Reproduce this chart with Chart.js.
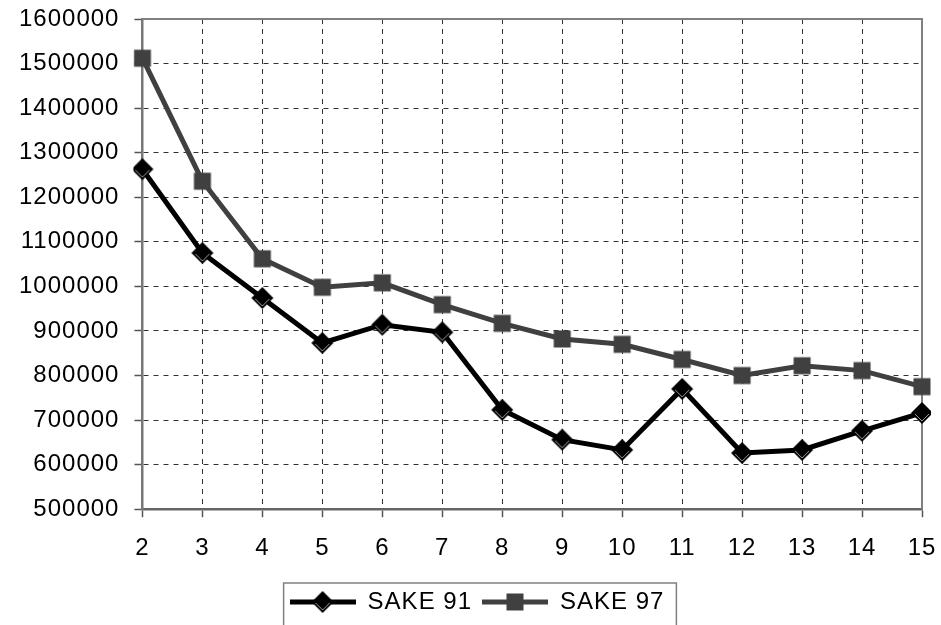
<!DOCTYPE html>
<html lang="en">
<head>
    <meta charset="UTF-8">
    <title>SAKE 91 / SAKE 97</title>
    <script src="https://cdn.jsdelivr.net/npm/chart.js"></script>
    <style>
        html, body { margin: 0; padding: 0; background: #fff; }
        #wrap { width: 941px; height: 625px; }
    </style>
</head>
<body>
    <div id="wrap"><canvas id="myChart" width="941" height="625"></canvas></div>

    <script>
        var categories = ['2', '3', '4', '5', '6', '7', '8', '9', '10', '11', '12', '13', '14', '15'];
        var sake91 = [1263000, 1075000, 974000, 873000, 914000, 897000, 723000, 656000, 633000, 770000, 626000, 633000, 676000, 716000];
        var sake97 = [1512000, 1236000, 1062000, 998000, 1008000, 959000, 917000, 882000, 870000, 836000, 800000, 822000, 811000, 775000];
        var yMin = 500000;
        var yMax = 1600000;
        var yStep = 100000;

        var black = '#000000';
        var gray = '#404040';
        var swatchWidth = 66;

        // black diamond with the thin light edge on its lower half
        function drawDiamond(ctx, cx, cy, r) {
            ctx.beginPath();
            ctx.moveTo(cx, cy - r);
            ctx.lineTo(cx + r, cy);
            ctx.lineTo(cx, cy + r);
            ctx.lineTo(cx - r, cy);
            ctx.closePath();
            ctx.fillStyle = black;
            ctx.fill();
            ctx.beginPath();
            ctx.moveTo(cx - r + 4, cy + 1);
            ctx.lineTo(cx, cy + r - 3);
            ctx.lineTo(cx + r - 4, cy + 1);
            ctx.strokeStyle = '#9a9a9a';
            ctx.lineWidth = 1;
            ctx.stroke();
        }

        function drawSquare(ctx, cx, cy, half) {
            ctx.fillStyle = gray;
            ctx.fillRect(cx - half, cy - half, half * 2, half * 2);
        }

        function markerCanvas(kind) {
            var c = document.createElement('canvas');
            c.width = 24;
            c.height = 24;
            var ctx = c.getContext('2d');
            if (kind === 'diamond') drawDiamond(ctx, 12, 12, 11);
            else drawSquare(ctx, 12, 12, 8.5);
            return c;
        }

        // legend swatch: a short line with the marker in the middle
        function legendSwatch(kind, color) {
            var c = document.createElement('canvas');
            c.width = swatchWidth;
            c.height = 24;
            var ctx = c.getContext('2d');
            ctx.strokeStyle = color;
            ctx.lineWidth = 5;
            ctx.beginPath();
            ctx.moveTo(0, 12);
            ctx.lineTo(swatchWidth, 12);
            ctx.stroke();
            if (kind === 'diamond') drawDiamond(ctx, swatchWidth / 2, 12, 11);
            else drawSquare(ctx, swatchWidth / 2, 12, 8.5);
            return c;
        }

        var textSpacing = {
            id: 'textSpacing',
            beforeLayout: function (chart) { chart.ctx.letterSpacing = '1px'; },
            beforeDraw: function (chart) { chart.ctx.letterSpacing = '1px'; }
        };

        var plotFrame = {
            id: 'plotFrame',
            // legend sits a little right of the canvas centre
            afterLayout: function (chart) {
                chart.legend.left += 14;
                chart.legend.right += 14;
            },
            beforeDatasetsDraw: function (chart) {
                var a = chart.chartArea;
                var ctx = chart.ctx;
                ctx.save();
                ctx.strokeStyle = '#808080';
                ctx.lineWidth = 2;
                ctx.beginPath();
                ctx.moveTo(a.left, a.top);
                ctx.lineTo(a.right, a.top);
                ctx.lineTo(a.right, a.bottom);
                ctx.stroke();
                ctx.restore();
            },
            afterDraw: function (chart) {
                var boxes = chart.legend.legendHitBoxes;
                if (!boxes || !boxes.length) return;
                var first = boxes[0];
                var last = boxes[boxes.length - 1];
                var ctx = chart.ctx;
                ctx.save();
                ctx.strokeStyle = '#808080';
                ctx.lineWidth = 1.5;
                ctx.strokeRect(first.left - 6, first.top - 7, last.left + last.width - first.left + 18, 80);
                ctx.restore();
            }
        };

        Chart.defaults.font.family = '"Liberation Sans", Arial, sans-serif';
        Chart.defaults.font.size = 24;
        Chart.defaults.color = '#000';

        var ctx = document.getElementById('myChart').getContext('2d');
        var myChart = new Chart(ctx, {
            type: 'line',
            data: {
                labels: categories,
                datasets: [
                    {
                        label: 'SAKE 91',
                        data: sake91,
                        borderColor: black,
                        backgroundColor: black,
                        borderWidth: 5,
                        pointStyle: markerCanvas('diamond'),
                        tension: 0
                    },
                    {
                        label: 'SAKE 97',
                        data: sake97,
                        borderColor: gray,
                        backgroundColor: gray,
                        borderWidth: 5,
                        pointStyle: markerCanvas('square'),
                        tension: 0
                    }
                ]
            },
            options: {
                responsive: false,
                animation: false,
                events: [],
                layout: { padding: { top: 19, right: 19, left: 4, bottom: 1 } },
                scales: {
                    x: {
                        offset: false,
                        grid: {
                            offset: false,
                            color: '#333',
                            lineWidth: 1,
                            tickLength: 8,
                            tickColor: '#555',
                            tickWidth: 1.5
                        },
                        border: { color: '#666', width: 2.5, dash: [5, 5] },
                        ticks: { padding: 17, maxRotation: 0, autoSkip: false },
                        afterFit: function (scale) { scale.paddingLeft = 0; scale.paddingRight = 0; }
                    },
                    y: {
                        min: yMin,
                        max: yMax,
                        grid: {
                            color: '#333',
                            lineWidth: 1,
                            tickLength: 8,
                            tickColor: '#555',
                            tickWidth: 1.5
                        },
                        border: { color: '#777', width: 2.5, dash: [5, 5] },
                        ticks: {
                            stepSize: yStep,
                            padding: 15,
                            callback: function (v) { return String(v); }
                        },
                        afterFit: function (scale) { scale.paddingTop = 0; scale.paddingBottom = 0; }
                    }
                },
                plugins: {
                    tooltip: { enabled: false },
                    legend: {
                        position: 'bottom',
                        labels: {
                            usePointStyle: true,
                            pointStyleWidth: swatchWidth,
                            padding: 10,
                            color: '#000',
                            generateLabels: function (chart) {
                                return chart.data.datasets.map(function (ds, i) {
                                    return {
                                        text: ds.label,
                                        pointStyle: legendSwatch(i === 0 ? 'diamond' : 'square', ds.borderColor),
                                        fillStyle: ds.borderColor,
                                        strokeStyle: ds.borderColor,
                                        lineWidth: 0,
                                        hidden: false,
                                        datasetIndex: i
                                    };
                                });
                            }
                        }
                    }
                }
            },
            plugins: [textSpacing, plotFrame]
        });
    </script>
</body>
</html>
